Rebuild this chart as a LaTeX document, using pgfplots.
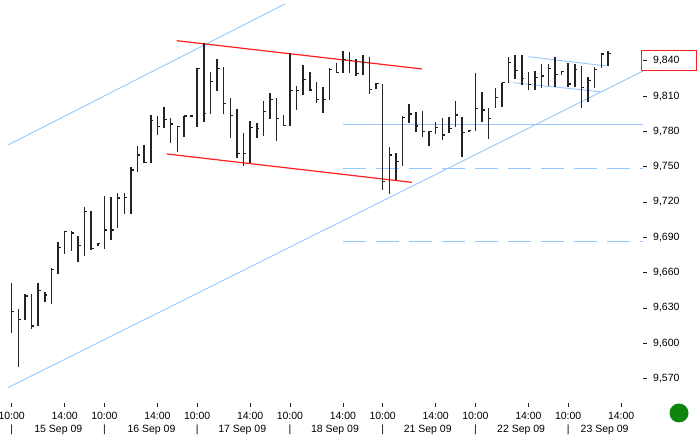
\documentclass[border=0pt]{standalone}
\usepackage{pgfplots}
\usepackage{pgfplotstable}
\pgfplotsset{compat=1.18}
\usepackage{fontspec}
\setmainfont{Liberation Sans}
\definecolor{barc}{RGB}{35,35,35}
\definecolor{lblue}{RGB}{150,200,255}
\definecolor{lred}{RGB}{255,30,30}
\definecolor{dotg}{RGB}{14,134,14}
\tikzset{datelab/.style={font=\fontsize{10.5}{12}\selectfont, anchor=base, inner sep=0pt, yshift=-29pt}}
\pgfdeclareplotmark{closetick}{\pgfpathmoveto{\pgfqpoint{0pt}{0pt}}\pgfpathlineto{\pgfqpoint{2.6pt}{0pt}}\pgfusepathqstroke}
\pgfplotstableread{
i h l c
0 9651.5 9608.5 9626.8
1 9629.1 9580.1 9620.4
2 9641.6 9619.8 9640.2
3 9641.6 9612.7 9614.7
4 9651.5 9614.7 9644.7
5 9643.8 9635.3 9641.0
6 9663.7 9633.4 9662.8
7 9686.3 9658.6 9681.2
8 9695.4 9675.8 9694.8
9 9695.4 9678.6 9693.7
10 9691.4 9669.3 9682.9
11 9715.5 9674.1 9711.8
12 9712.6 9679.2 9680.7
13 9685.4 9682.6 9685.0
14 9725.1 9679.8 9696.2
15 9724.2 9688.3 9696.2
16 9727.4 9698.2 9723.4
17 9727.6 9709.6 9724.2
18 9750.0 9709.6 9747.2
19 9767.6 9745.7 9759.9
20 9768.4 9752.9 9753.4
21 9793.9 9753.4 9789.0
22 9793.0 9776.9 9784.0
23 9800.9 9782.6 9790.2
24 9791.1 9769.9 9786.2
25 9784.5 9762.7 9784.0
26 9793.0 9775.5 9793.0
27 9793.9 9792.4 9793.0
28 9834.1 9784.0 9833.5
29 9854.8 9788.2 9795.3
30 9830.1 9794.7 9822.2
31 9841.4 9814.3 9833.5
32 9834.9 9794.7 9803.8
33 9808.1 9774.1 9793.3
34 9799.0 9757.1 9761.4
35 9778.9 9750.6 9761.4
36 9789.0 9753.4 9783.4
37 9787.3 9774.1 9782.6
38 9806.0 9776.0 9796.7
39 9812.8 9790.2 9807.2
40 9808.1 9772.1 9791.1
41 9793.9 9784.5 9784.8
42 9846.8 9784.5 9814.5
43 9818.8 9798.1 9814.5
44 9836.3 9810.9 9824.2
45 9830.1 9814.5 9815.1
46 9822.2 9804.3 9807.2
47 9817.4 9795.8 9807.2
48 9833.5 9806.6 9832.7
49 9838.3 9829.3 9829.8
50 9848.5 9829.3 9841.2
51 9847.6 9829.3 9840.0
52 9841.2 9827.0 9829.3
53 9844.8 9827.9 9838.3
54 9843.4 9811.7 9815.7
55 9821.3 9815.7 9820.8
56 9820.2 9730.2 9737.2
57 9766.5 9726.8 9759.9
58 9761.4 9738.7 9754.2
59 9793.0 9750.6 9791.9
60 9803.0 9786.8 9794.7
61 9796.7 9779.7 9784.5
62 9797.5 9775.5 9779.7
63 9780.6 9767.6 9779.7
64 9788.2 9777.7 9783.4
65 9791.1 9772.7 9776.9
66 9791.9 9778.3 9782.6
67 9806.0 9783.4 9793.9
68 9792.4 9758.0 9778.9
69 9781.1 9780.6 9780.8
70 9829.3 9780.6 9799.6
71 9813.2 9788.2 9798.1
72 9799.6 9773.2 9791.1
73 9816.6 9799.6 9808.9
74 9821.3 9800.9 9821.3
75 9842.9 9820.8 9838.3
76 9844.8 9824.2 9831.3
77 9844.8 9819.4 9825.1
78 9830.1 9815.1 9820.0
79 9831.5 9815.1 9825.9
80 9837.2 9816.6 9827.0
81 9837.2 9818.5 9833.5
82 9842.9 9817.4 9827.9
83 9831.5 9827.9 9830.7
84 9837.8 9817.9 9820.2
85 9837.2 9817.9 9832.7
86 9835.5 9799.6 9817.4
87 9826.4 9805.2 9823.0
88 9834.4 9816.6 9832.7
89 9846.3 9833.5 9845.7
90 9848.5 9835.5 9846.3
}\bars
\begin{document}
\begin{tikzpicture}
\useasboundingbox (0,0) rectangle (697pt,445pt);
\begin{axis}[
  at={(5pt,42pt)}, anchor=south west,
  scale only axis, width=638pt, height=400pt,
  xmin=-1.01, xmax=95.29, ymin=9549.3, ymax=9889,
  axis x line*=bottom, axis y line*=right,
  axis line style={draw=none},
  tick align=outside, major tick length=4pt,
  tick style={barc, line width=0.6pt},
  xtick={0,8,14,22,28,36,42,50,56,64,70,78,84,92},
  xticklabels={10:00,14:00,10:00,14:00,10:00,14:00,10:00,14:00,10:00,14:00,10:00,14:00,10:00,14:00},
  ytick={9570,9600,...,9840},
  /pgf/number format/assume math mode=true,
  /pgf/number format/1000 sep={,},
  /pgf/number format/fixed,
  ticklabel style={font=\fontsize{10.5}{12}\selectfont, text=black},
  xticklabel style={anchor=base, yshift=-12pt, inner sep=0pt},
  yticklabel style={anchor=west, inner sep=0pt, xshift=6pt},
  clip=true, clip mode=individual,
]
% trend lines
\addplot[lblue, line width=0.9pt] coordinates {(-0.56,9768.4) (41.25,9888.2)};
\addplot[lblue, line width=0.9pt] coordinates {(-0.56,9562.3) (95.29,9831.2)};
\addplot[lblue, line width=1.3pt] coordinates {(50.05,9786) (95.29,9786)};
\addplot[lblue, line width=1.1pt, dash pattern=on 23pt off 10pt] coordinates {(50.05,9748.6) (95.29,9748.6)};
\addplot[lblue, line width=1.1pt, dash pattern=on 23pt off 10pt] coordinates {(50.05,9686.8) (95.29,9686.8)};
\addplot[lblue, line width=0.9pt] coordinates {(78,9843.4) (89.8,9835.5)};
\addplot[lblue, line width=0.9pt] coordinates {(75.7,9821.3) (88.8,9813.7)};
\addplot[lred, line width=1.2pt] coordinates {(24.9,9857) (61.9,9833)};
\addplot[lred, line width=1.2pt] coordinates {(23.4,9760.8) (60.4,9736.7)};
% bars (high-low)
\addplot[draw=none, mark=none, forget plot,
  error bars/.cd, y dir=both, y explicit, error mark=none,
  error bar style={draw=barc, solid, line width=1.5pt}]
  table[x=i, y expr={(\thisrow{h}+\thisrow{l})/2}, y error expr={(\thisrow{h}-\thisrow{l})/2}] {\bars};
% close ticks
\addplot[draw=none, mark=closetick, mark options={draw=barc, solid, line width=1.1pt}]
  table[x=i, y=c] {\bars};
% date row
\node[datelab] at (axis cs:0,9549.3) {|};
\node[datelab] at (axis cs:14,9549.3) {|};
\node[datelab] at (axis cs:28,9549.3) {|};
\node[datelab] at (axis cs:42,9549.3) {|};
\node[datelab] at (axis cs:56,9549.3) {|};
\node[datelab] at (axis cs:70,9549.3) {|};
\node[datelab] at (axis cs:84,9549.3) {|};
\node[datelab] at (axis cs:7.04,9549.3) {15 Sep 09};
\node[datelab] at (axis cs:21.1,9549.3) {16 Sep 09};
\node[datelab] at (axis cs:34.8,9549.3) {17 Sep 09};
\node[datelab] at (axis cs:48.8,9549.3) {18 Sep 09};
\node[datelab] at (axis cs:62.8,9549.3) {21 Sep 09};
\node[datelab] at (axis cs:76.9,9549.3) {22 Sep 09};
\node[datelab] at (axis cs:89.5,9549.3) {23 Sep 09};
\end{axis}
\draw[lred, line width=1pt] (641pt,374pt) rectangle (696.4pt,394.5pt);
\fill[dotg] (679pt,32pt) circle (9.5pt);
\end{tikzpicture}
\end{document}
